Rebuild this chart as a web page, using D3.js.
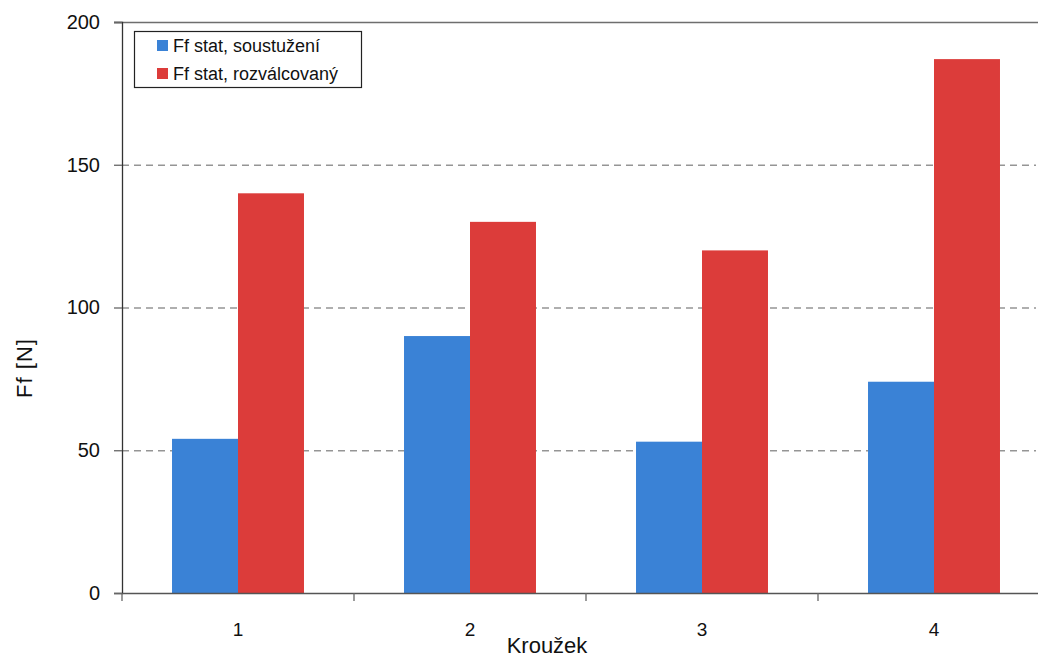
<!DOCTYPE html>
<html>
<head>
<meta charset="utf-8">
<script src="https://cdn.jsdelivr.net/npm/d3@7"></script>
<style>
  html, body { margin: 0; padding: 0; background: #fff; }
  svg { display: block; font-family: "Liberation Sans", Arial, sans-serif; }
</style>
</head>
<body>
<svg id="chart" width="1038" height="657"></svg>
<script>
// Static friction force per ring, two surface treatments
const categories = ["1", "2", "3", "4"];
const seriesNames = ["Ff stat, soustužení", "Ff stat, rozválcovaný"];
const soustuzeni = [54, 90, 53, 74];
const rozvalcovany = [140, 130, 120, 187];
const yTicks = [0, 50, 100, 150, 200];
const colors = ["#3a82d6", "#dc3c3a"];

const svg = d3.select("#chart");
const margin = { left: 122, top: 22, right: 1050, bottom: 593 };

const x = d3.scaleBand().domain(categories).range([margin.left, margin.right]).paddingInner(0).paddingOuter(0);
// two bars per group, with a gap of about 3/4 bar width on each side
const inner = d3.scaleBand().domain([0, 1]).range([0, x.bandwidth()]).paddingInner(0).paddingOuter(0.758);
const y = d3.scaleLinear().domain([0, 200]).range([margin.bottom, margin.top]);

// Dashed gridlines
svg.append("g").selectAll("line")
  .data(yTicks.filter(d => d > 0 && d < 200))
  .join("line")
  .attr("x1", margin.left).attr("x2", 1036)
  .attr("y1", d => y(d) + 0.5).attr("y2", d => y(d) + 0.5)
  .attr("stroke", "#959595").attr("stroke-width", 1.3)
  .attr("stroke-dasharray", "7,5");

// Top border line at 200
svg.append("line")
  .attr("x1", 114).attr("x2", 1038)
  .attr("y1", y(200) + 0.5).attr("y2", y(200) + 0.5)
  .attr("stroke", "#6e6e6e").attr("stroke-width", 1.5);

// Bars
const series = [soustuzeni, rozvalcovany];
series.forEach((vals, si) => {
  svg.append("g").selectAll("rect")
    .data(vals)
    .join("rect")
    .attr("x", (d, i) => x(categories[i]) + inner(si))
    .attr("width", inner.bandwidth())
    .attr("y", d => y(d))
    .attr("height", d => y(0) - y(d))
    .attr("fill", colors[si]);
});

// Y axis
const yAxis = d3.axisLeft(y).tickValues(yTicks).tickSize(8).tickPadding(14);
const gy = svg.append("g").attr("transform", `translate(${margin.left},0)`).call(yAxis);
gy.select(".domain").attr("stroke", "#333").attr("stroke-width", 1.3);
gy.selectAll(".tick line").attr("stroke", "#666").attr("stroke-width", 1.3);
gy.selectAll(".tick text").attr("font-size", 20).attr("fill", "#111")
  .attr("font-family", "Liberation Sans, Arial, sans-serif");

// X axis
const xAxis = d3.axisBottom(x).tickSize(0).tickPadding(30);
const gx = svg.append("g").attr("transform", `translate(0,${margin.bottom})`).call(xAxis);
gx.select(".domain").attr("stroke", "#555").attr("stroke-width", 1.5);
gx.selectAll(".tick text").attr("font-size", 19).attr("fill", "#111")
  .attr("font-family", "Liberation Sans, Arial, sans-serif");
// Category separators
gx.append("g").selectAll("line")
  .data(categories.concat(["end"]))
  .join("line")
  .attr("x1", (d, i) => margin.left + i * x.bandwidth())
  .attr("x2", (d, i) => margin.left + i * x.bandwidth())
  .attr("y1", 0).attr("y2", 8)
  .attr("stroke", "#666").attr("stroke-width", 1.3);

// Axis titles
svg.append("text")
  .attr("x", 547).attr("y", 653)
  .attr("text-anchor", "middle")
  .attr("font-size", 22).attr("fill", "#111")
  .text("Kroužek");

svg.append("text")
  .attr("transform", "translate(32,368) rotate(-90)")
  .attr("text-anchor", "middle")
  .attr("font-size", 22).attr("fill", "#111")
  .attr("letter-spacing", 1)
  .text("Ff [N]");

// Legend
const lg = svg.append("g");
lg.append("rect")
  .attr("x", 134.5).attr("y", 31.5).attr("width", 227).attr("height", 56)
  .attr("fill", "#fff").attr("stroke", "#222").attr("stroke-width", 1.2);
seriesNames.forEach((name, i) => {
  lg.append("rect")
    .attr("x", 157).attr("y", 40 + i * 28).attr("width", 11).attr("height", 11)
    .attr("fill", colors[i]);
  lg.append("text")
    .attr("x", 173).attr("y", 52 + i * 28)
    .attr("font-size", 18).attr("fill", "#111")
    .text(name);
});
</script>
</body>
</html>
